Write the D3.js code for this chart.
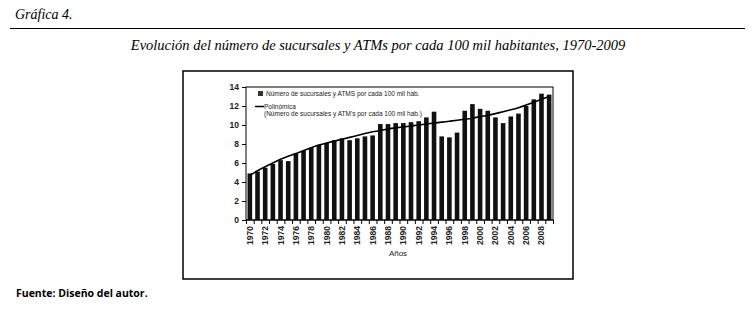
<!DOCTYPE html>
<html>
<head>
<meta charset="utf-8">
<script src="https://cdn.jsdelivr.net/npm/d3@7"></script>
<style>
  body { margin: 0; background: #fff; }
  svg { display: block; }
</style>
</head>
<body>
<svg id="chart"></svg>
<script>
// years shown on the x axis
const years = d3.range(1970, 2010);
// sucursales + ATMs per 100k inhabitants
const values = [4.9, 5.1, 5.5, 5.9, 6.3, 6.2, 7.0, 7.3, 7.6, 7.9,
                8.1, 8.4, 8.6, 8.4, 8.6, 8.8, 8.9, 10.1, 10.1, 10.2,
                10.2, 10.3, 10.4, 10.8, 11.4, 8.8, 8.7, 9.2, 11.5, 12.2,
                11.7, 11.5, 10.8, 10.2, 10.9, 11.2, 12.0, 12.7, 13.3, 13.2];
// polynomial trend line
const trend = [4.7, 5.2, 5.6, 6.0, 6.4, 6.7, 7.0, 7.3, 7.6, 7.9,
               8.1, 8.3, 8.5, 8.7, 8.9, 9.1, 9.3, 9.4, 9.6, 9.7,
               9.8, 9.9, 10.0, 10.1, 10.2, 10.3, 10.4, 10.5, 10.6, 10.7,
               10.9, 11.0, 11.2, 11.4, 11.6, 11.8, 12.1, 12.4, 12.7, 13.0];
const yTicks = [0, 2, 4, 6, 8, 10, 12, 14];

const width = 755, height = 312;
const svg = d3.select("#chart").attr("width", width).attr("height", height);

const sans = "'Liberation Sans', Arial, sans-serif";
const serif = "'Liberation Serif', 'DejaVu Serif', serif";

// header
svg.append("text").attr("x", 15).attr("y", 19)
  .attr("font-family", serif).attr("font-style", "italic").attr("font-size", 14)
  .text("Gráfica 4.");
svg.append("line").attr("x1", 10).attr("x2", 745).attr("y1", 28.5).attr("y2", 28.5)
  .attr("stroke", "#000").attr("stroke-width", 1);
svg.append("text").attr("x", 378).attr("y", 50).attr("text-anchor", "middle")
  .attr("font-family", serif).attr("font-style", "italic").attr("font-size", 14.5)
  .text("Evolución del número de sucursales y ATMs por cada 100 mil habitantes, 1970-2009");

// outer frame
svg.append("rect").attr("x", 183).attr("y", 71).attr("width", 390).attr("height", 208)
  .attr("fill", "none").attr("stroke", "#000").attr("stroke-width", 1.5);

// plot area
const x = d3.scaleBand().domain(years).range([246, 553]).paddingInner(0.4).paddingOuter(0.2);
const y = d3.scaleLinear().domain([0, 14]).range([220, 87]);

svg.append("rect").attr("x", 246).attr("y", 87).attr("width", 307).attr("height", 133)
  .attr("fill", "none").attr("stroke", "#000").attr("stroke-width", 1);

svg.append("g").selectAll("rect")
  .data(years)
  .join("rect")
  .attr("x", (d) => x(d))
  .attr("width", x.bandwidth())
  .attr("y", (d, i) => y(values[i]))
  .attr("height", (d, i) => y(0) - y(values[i]))
  .attr("fill", "#111");

// trend
const line = d3.line()
  .x((d, i) => x(years[i]) + x.bandwidth() / 2)
  .y((d) => y(d))
  .curve(d3.curveBasis);
svg.append("path").datum(trend).attr("d", line)
  .attr("fill", "none").attr("stroke", "#000").attr("stroke-width", 1.6);

// y axis
const yAxis = svg.append("g").attr("transform", "translate(246,0)")
  .call(d3.axisLeft(y).tickValues(yTicks).tickSize(4).tickPadding(3));
yAxis.select(".domain").remove();
yAxis.selectAll("text").attr("font-family", sans).attr("font-size", 8.5).attr("font-weight", "bold").attr("fill", "#222");

// x axis: ticks between bands, labels every 2nd year
const step = x.step();
const xAxis = svg.append("g").attr("transform", "translate(0,220)");
xAxis.append("line").attr("x1", 246).attr("x2", 553).attr("stroke", "#000");
xAxis.selectAll("line.tk")
  .data(years.concat([2010]))
  .join("line").attr("class", "tk")
  .attr("x1", (d) => 246 + (d - 1970) * step + 0.5)
  .attr("x2", (d) => 246 + (d - 1970) * step + 0.5)
  .attr("y1", 0).attr("y2", 4).attr("stroke", "#000");
xAxis.selectAll("text")
  .data(years.filter((d) => d % 2 === 0))
  .join("text")
  .attr("transform", (d) => `translate(${x(d) + x.bandwidth() / 2 + 3},6) rotate(-90)`)
  .attr("text-anchor", "end")
  .attr("font-family", sans).attr("font-size", 8.5).attr("font-weight", "bold").attr("fill", "#222")
  .text((d) => d);

svg.append("text").attr("x", 398).attr("y", 256).attr("text-anchor", "middle")
  .attr("font-family", sans).attr("font-size", 8).attr("fill", "#222").text("Años");

// legend
const lg = svg.append("g").attr("font-family", sans).attr("font-size", 6.5).attr("fill", "#222");
lg.append("rect").attr("x", 258).attr("y", 91).attr("width", 5).attr("height", 5).attr("fill", "#333");
lg.append("text").attr("x", 266).attr("y", 96).text("Número de sucursales y ATMS por cada 100 mil hab.");
lg.append("line").attr("x1", 255).attr("x2", 264).attr("y1", 106.5).attr("y2", 106.5)
  .attr("stroke", "#000").attr("stroke-width", 1.5);
lg.append("text").attr("x", 264).attr("y", 109).text("Polinómica");
lg.append("text").attr("x", 264).attr("y", 116).text("(Número de sucursales y ATM's por cada 100 mil hab.)");

// source
svg.append("text").attr("x", 16).attr("y", 297)
  .attr("font-family", "'Open Sans', 'DejaVu Sans', sans-serif").attr("font-weight", "bold")
  .attr("font-size", 10.5).text("Fuente: Diseño del autor.");
</script>
</body>
</html>
